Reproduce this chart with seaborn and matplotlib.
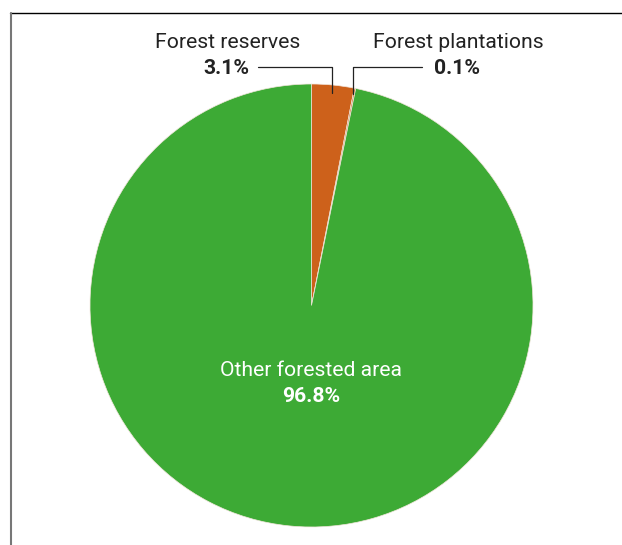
import matplotlib
matplotlib.use("Agg")
import matplotlib.pyplot as plt
from matplotlib.lines import Line2D
import seaborn as sns

# data (clockwise from 12 o'clock)
categories = ["Forest reserves", "Forest plantations", "Other forested area"]
shares = [3.1, 0.1, 96.8]
colors = ["#CD611B", "#CD611B", "#3DAA35"]

W, H = 622, 545
CX, CY, R = 311.5, 305.5, 221.5  # pie centre / radius in pixels


def to_data(px, py):
    """pixel (from top-left) -> pie data coords"""
    return (px - CX) / R, (CY - py) / R


sns.set_theme(style="white")
plt.rcParams["font.family"] = ["Roboto", "DejaVu Sans"]

fig = plt.figure(figsize=(W / 100, H / 100), dpi=100)
ax = fig.add_axes([(CX - R) / W, (H - CY - R) / H, 2 * R / W, 2 * R / H])
ax.pie(shares, colors=colors, startangle=90, counterclock=False, radius=1,
       wedgeprops=dict(edgecolor="#f2e6dc", linewidth=0.5))
ax.set_xlim(-1, 1)
ax.set_ylim(-1, 1)
ax.set_aspect("equal")
ax.axis("off")

fs = 15.2
# left label: Forest reserves
ax.text(*to_data(300, 42), categories[0], ha="right", va="center",
        fontsize=fs, color="#222222", clip_on=False)
ax.text(*to_data(249, 68), f"{shares[0]:.1f}%", ha="right", va="center",
        fontsize=fs, fontweight="bold", color="#222222", clip_on=False)
lx = [to_data(258, 67)[0], to_data(332, 67)[0], to_data(332, 93)[0]]
ly = [to_data(258, 67)[1], to_data(332, 67)[1], to_data(332, 93)[1]]
ax.plot(lx, ly, color="#222222", lw=0.9, clip_on=False)

# right label: Forest plantations
ax.text(*to_data(373, 42), categories[1], ha="left", va="center",
        fontsize=fs, color="#222222", clip_on=False)
ax.text(*to_data(434, 68), f"{shares[1]:.1f}%", ha="left", va="center",
        fontsize=fs, fontweight="bold", color="#222222", clip_on=False)
rx = [to_data(422, 67)[0], to_data(353, 67)[0], to_data(353, 94)[0]]
ry = [to_data(422, 67)[1], to_data(353, 67)[1], to_data(353, 94)[1]]
ax.plot(rx, ry, color="#222222", lw=0.9, clip_on=False)

# inside label
ax.text(*to_data(311, 370), categories[2], ha="center", va="center",
        fontsize=fs, color="white")
ax.text(*to_data(311, 396), f"{shares[2]:.1f}%", ha="center", va="center",
        fontsize=fs, fontweight="bold", color="white")

# frame lines (top and left)
fig.add_artist(Line2D([10 / W, 1], [1 - 13 / H, 1 - 13 / H],
                      transform=fig.transFigure, color="black", lw=1.0))
fig.add_artist(Line2D([10.5 / W, 10.5 / W], [0, 1 - 13 / H],
                      transform=fig.transFigure, color="#777777", lw=1.5))

fig.savefig("out.png", dpi=100)
